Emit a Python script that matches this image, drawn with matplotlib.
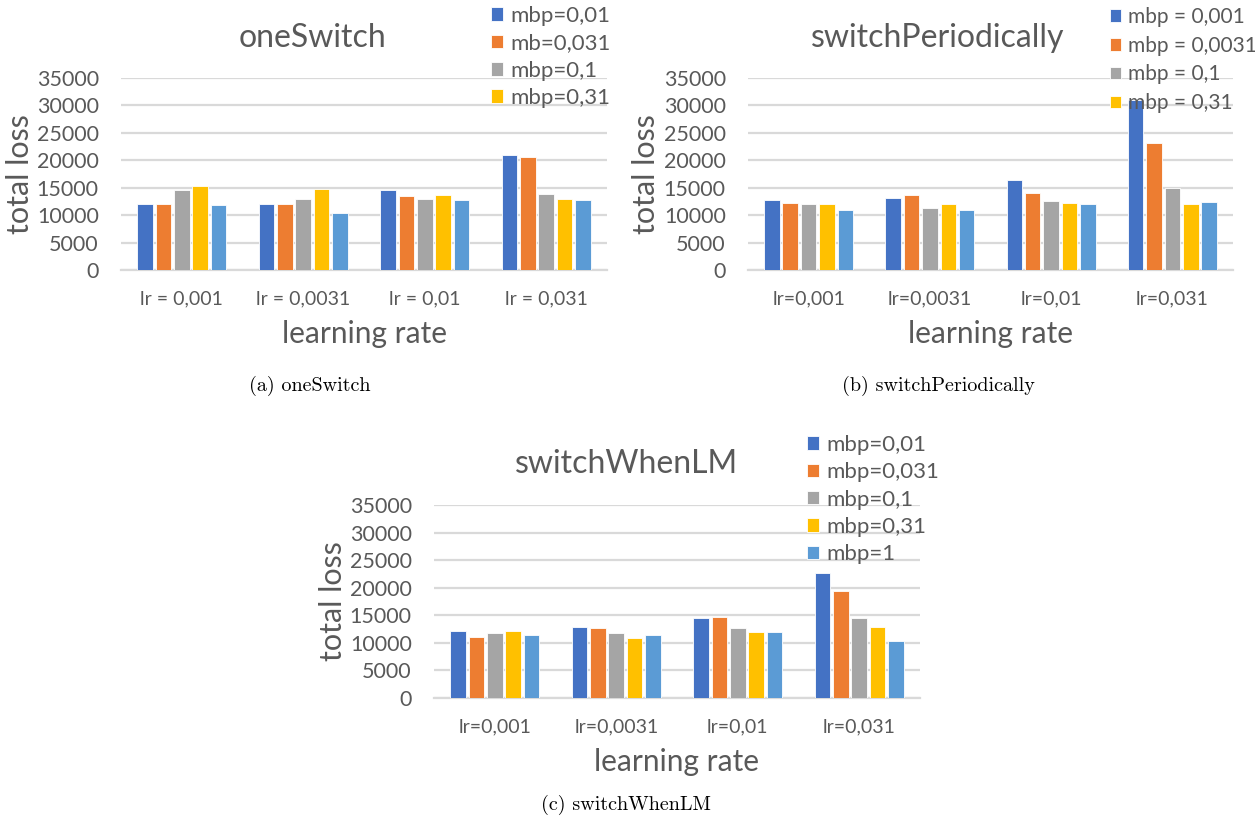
import numpy as np
import matplotlib.pyplot as plt
import matplotlib

matplotlib.rcParams['font.family'] = ['Lato', 'DejaVu Sans']
matplotlib.rcParams['text.color'] = '#595959'

W, H = 1255, 825

# learning-rate groups
lr_a = ['lr = 0,001', 'lr = 0,0031', 'lr = 0,01', 'lr = 0,031']
lr_b = ['lr=0,001', 'lr=0,0031', 'lr=0,01', 'lr=0,031']
lr_c = ['lr=0,001', 'lr=0,0031', 'lr=0,01', 'lr=0,031']

# total loss per mbp series (rows) and lr group (columns)
one_switch = [
    [12000, 12000, 14600, 21000],
    [12000, 12100, 13500, 20550],
    [14550, 12900, 12900, 13900],
    [15400, 14700, 13650, 12900],
    [11900, 10400, 12700, 12700],
]
switch_periodically = [
    [12800, 13100, 16400, 30900],
    [12300, 13650, 14100, 23200],
    [11950, 11350, 12550, 15000],
    [12100, 11950, 12200, 12100],
    [10900, 11000, 12100, 12400],
]
switch_when_lm = [
    [12200, 12900, 14500, 22600],
    [11100, 12750, 14700, 19350],
    [11800, 11750, 12750, 14450],
    [12200, 10900, 12000, 12950],
    [11450, 11350, 12050, 10400],
]

legend_a = ['mbp=0,01', 'mb=0,031', 'mbp=0,1', 'mbp=0,31']
legend_b = ['mbp = 0,001', 'mbp = 0,0031', 'mbp = 0,1', 'mbp = 0,31']
legend_c = ['mbp=0,01', 'mbp=0,031', 'mbp=0,1', 'mbp=0,31', 'mbp=1']

colors = ['#4472C4', '#ED7D31', '#A5A5A5', '#FFC000', '#5B9BD5']
grid_col = '#D9D9D9'


def px_box(left, right, top, bottom):
    return [left / W, 1 - bottom / H, (right - left) / W, (bottom - top) / H]


def panel(fig, box, data, cats, labels, title, title_x, title_y,
          caption, cap_x, cap_y, leg_xy, leg_size, leg_space, ylab_x):
    left, right, top, bottom = box
    ax = fig.add_axes(px_box(*box))
    x = np.arange(len(cats))
    step = 0.152
    bars = []
    for i, vals in enumerate(data):
        b = ax.bar(x + (i - 2) * step, vals, width=0.128, color=colors[i],
                   edgecolor='white', linewidth=0.6, zorder=3)
        bars.append(b)
    ax.set_xlim(-0.5, len(cats) - 0.5)
    ax.set_ylim(0, 35000)
    ax.set_yticks(np.arange(0, 35001, 5000))
    ax.set_yticklabels([str(v) for v in range(0, 35001, 5000)])
    ax.set_xticks(x)
    ax.set_xticklabels(cats)
    ax.tick_params(axis='y', length=0, pad=16, labelsize=15.5, labelcolor='#595959')
    ax.tick_params(axis='x', length=0, pad=15, labelsize=14, labelcolor='#595959')
    ax.grid(axis='y', color=grid_col, linewidth=1.6, zorder=0)
    for s in ['top', 'right', 'left']:
        ax.spines[s].set_visible(False)
    ax.spines['bottom'].set_color(grid_col)
    ax.spines['bottom'].set_linewidth(1.6)
    ax.set_xlabel('learning rate', fontsize=21.5, color='#595959', labelpad=9)
    ax.set_ylabel('total loss', fontsize=22, color='#595959')
    ax.yaxis.set_label_coords(-(left - ylab_x) / (right - left), 0.5)
    fig.text(title_x / W, 1 - title_y / H, title, fontsize=23, ha='center', va='center')
    fig.text(cap_x / W, 1 - cap_y / H, caption, fontsize=14.5, ha='center', va='center',
             family=['cmr10', 'DejaVu Serif'], color='black')
    ax.legend(bars[:len(labels)], labels, loc='upper left', frameon=False,
              bbox_to_anchor=(leg_xy[0] / W, 1 - leg_xy[1] / H),
              bbox_transform=fig.transFigure, fontsize=leg_size,
              handlelength=0.55, handleheight=0.55, handletextpad=0.3,
              labelspacing=leg_space, borderpad=0, borderaxespad=0)
    return ax


fig = plt.figure(figsize=(W / 100, H / 100), dpi=100)

panel(fig, (121, 607, 78, 270), one_switch, lr_a, legend_a, 'oneSwitch', 312, 38,
      '(a) oneSwitch', 310, 386, (491, 6), 16, 0.33, 34)
panel(fig, (748, 1233, 78, 270), switch_periodically, lr_b, legend_b,
      'switchPeriodically', 938, 38, '(b) switchPeriodically', 938, 386, (1110, 7), 15, 0.42, 660)
panel(fig, (434, 920, 505, 698), switch_when_lm, lr_c, legend_c, 'switchWhenLM',
      626, 464, '(c) switchWhenLM', 626, 805, (807, 435), 16, 0.33, 347)

fig.savefig('out.png', dpi=100)
